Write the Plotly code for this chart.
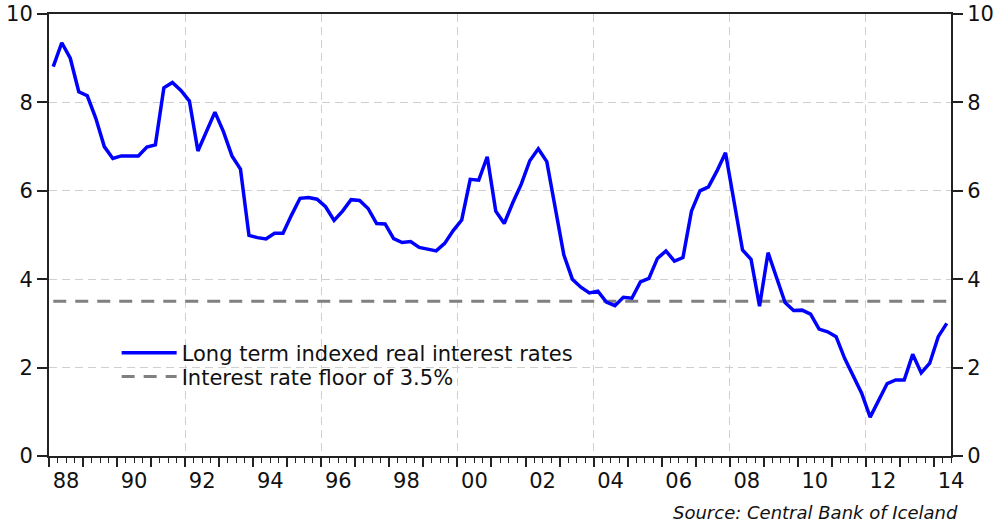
import plotly.graph_objects as go

# ---- data (quarterly, 1988Q1 - 2014Q2) ----
years = list(range(1988, 2015))
rates = [
    8.81, 9.35, 9.00, 8.24,   # 1988
    8.15, 7.64, 7.00, 6.73,   # 1989
    6.79, 6.79, 6.79, 6.99,   # 1990
    7.04, 8.33, 8.45, 8.27,   # 1991
    8.03, 6.90, 7.34, 7.78,   # 1992
    7.34, 6.79, 6.49, 4.99,   # 1993
    4.94, 4.91, 5.04, 5.04,   # 1994
    5.45, 5.83, 5.85, 5.81,   # 1995
    5.64, 5.33, 5.54, 5.80,   # 1996
    5.78, 5.60, 5.26, 5.25,   # 1997
    4.92, 4.83, 4.85, 4.72,   # 1998
    4.68, 4.64, 4.81, 5.10,   # 1999
    5.34, 6.26, 6.24, 6.77,   # 2000
    5.54, 5.26, 5.73, 6.15,   # 2001
    6.68, 6.95, 6.66, 5.57,   # 2002
    4.55, 4.00, 3.82, 3.69,   # 2003
    3.73, 3.48, 3.40, 3.59,   # 2004
    3.57, 3.94, 4.02, 4.47,   # 2005
    4.64, 4.41, 4.49, 5.54,   # 2006
    6.00, 6.09, 6.45, 6.86,   # 2007
    5.70, 4.66, 4.45, 3.39,   # 2008
    4.60, 4.06, 3.47, 3.29,   # 2009
    3.30, 3.21, 2.87, 2.81,   # 2010
    2.70, 2.21, 1.83, 1.42,   # 2011
    0.88, 1.27, 1.64, 1.72,   # 2012
    1.72, 2.30, 1.88, 2.10,   # 2013
    2.70, 3.00,               # 2014
]
floor_rate = 3.5
floor = [floor_rate] * len(rates)

# quarter mid-points as decimal years
quarters = [y + (q - 0.5) / 4 for y in years for q in range(1, 5)][:len(rates)]

x_label_vals = [y + 0.5 for y in range(1988, 2015, 2)]
x_label_text = [f"{y % 100:02d}" for y in range(1988, 2015, 2)]
x_grid_vals = list(range(1992, 2013, 4))
y_ticks = [0, 2, 4, 6, 8, 10]

x_range = [1988, 2014.5]
y_range = [0, 10]

FONT = "DejaVu Sans"
AXC = "#222222"
GRIDC = "#cfcfcf"
TXT = "#111111"

fig = go.Figure()

fig.add_trace(go.Scatter(
    x=quarters, y=floor, mode="lines", name="Interest rate floor of 3.5%",
    line=dict(color="#808080", width=3, dash="13px,9px"),
    xaxis="x3", yaxis="y2", legend="legend2",
))
fig.add_trace(go.Scatter(
    x=quarters, y=rates, mode="lines", name="Long term indexed real interest rates",
    line=dict(color="#0000ff", width=3.5),
    xaxis="x3", yaxis="y2", legend="legend",
))
# helper (empty) traces so the grid axes are drawn
fig.add_trace(go.Scatter(x=[], y=[], xaxis="x2", yaxis="y", showlegend=False, hoverinfo="skip"))
fig.add_trace(go.Scatter(x=[], y=[], xaxis="x", yaxis="y", showlegend=False, hoverinfo="skip"))

legend_common = dict(
    xanchor="left", yanchor="middle", bgcolor="rgba(0,0,0,0)",
    font=dict(family=FONT, size=21, color=TXT), itemwidth=55,
)

fig.update_layout(
    width=998, height=525,
    margin=dict(l=49, r=47, t=14, b=69, autoexpand=False),
    paper_bgcolor="white", plot_bgcolor="white",
    font=dict(family=FONT, size=21, color=TXT),
    showlegend=True,
    legend=dict(x=0.075, y=0.233, **legend_common),
    legend2=dict(x=0.075, y=0.179, **legend_common),
    xaxis=dict(
        range=x_range, tickmode="linear", tick0=1988, dtick=1,
        ticks="outside", ticklen=9, tickwidth=1.5, tickcolor=AXC,
        showticklabels=False, showgrid=False, zeroline=False, automargin=False,
        showline=True, linecolor=AXC, linewidth=2, mirror=True,
        minor=dict(tick0=1988, dtick=0.25, ticks="outside", ticklen=5,
                   tickwidth=1, tickcolor=AXC, showgrid=False),
    ),
    xaxis2=dict(
        overlaying="x", anchor="y", range=x_range, tickmode="array",
        tickvals=x_grid_vals, showticklabels=False, ticks="", automargin=False,
        showgrid=True, gridcolor=GRIDC, gridwidth=1, griddash="8px,5px",
        showline=False, zeroline=False,
    ),
    xaxis3=dict(
        overlaying="x", anchor="y", side="bottom", range=x_range, tickmode="array",
        tickvals=x_label_vals, ticktext=x_label_text, ticks="", automargin=False,
        showgrid=False, showline=False, zeroline=False, ticklabelstandoff=10,
        tickfont=dict(family=FONT, size=21, color=TXT),
    ),
    yaxis=dict(
        range=y_range, tickmode="array", tickvals=y_ticks, automargin=False,
        ticks="outside", ticklen=10, tickwidth=1.5, tickcolor=AXC,
        showgrid=True, gridcolor=GRIDC, gridwidth=1, griddash="8px,5px",
        showline=True, linecolor=AXC, linewidth=2, zeroline=False,
        tickfont=dict(family=FONT, size=21, color=TXT),
    ),
    yaxis2=dict(
        overlaying="y", side="right", anchor="x", range=y_range, automargin=False,
        tickmode="array", tickvals=y_ticks,
        ticks="outside", ticklen=10, tickwidth=1.5, tickcolor=AXC,
        showgrid=False, showline=True, linecolor=AXC, linewidth=2, zeroline=False,
        tickfont=dict(family=FONT, size=21, color=TXT),
    ),
    annotations=[dict(
        text="Source: Central Bank of Iceland", xref="paper", yref="paper",
        x=1.01, y=-0.127, xanchor="right", yanchor="middle", showarrow=False,
        font=dict(family=FONT, size=18, color=TXT, style="italic"),
    )],
)

fig.write_html("out.html", config={"displayModeBar": False},
               post_script="document.body.style.margin='0';")
